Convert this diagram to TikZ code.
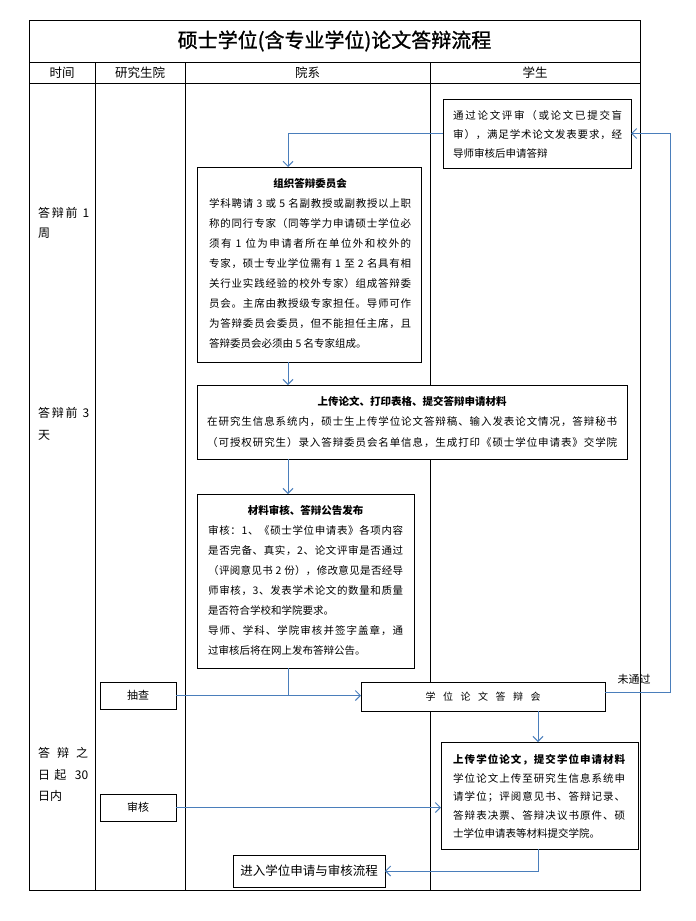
\documentclass[tikz,border=0pt]{standalone}
\usepackage{fontspec}
\setmainfont{Noto Sans CJK SC}
\newfontfamily\ttlfont[FakeBold=1.2]{Noto Sans CJK SC}
\usetikzlibrary{arrows.meta}
\definecolor{conn}{RGB}{74,126,187}
% inter-character stretch for CJK, used to justify lines
\newcount\cjkcnt
\cjkcnt="3000
\loop\XeTeXcharclass\cjkcnt=7 \advance\cjkcnt by 1 \ifnum\cjkcnt<"3040 \repeat
\cjkcnt="4E00
\loop\XeTeXcharclass\cjkcnt=7 \advance\cjkcnt by 1 \ifnum\cjkcnt<"A000 \repeat
\cjkcnt="FF00
\loop\XeTeXcharclass\cjkcnt=7 \advance\cjkcnt by 1 \ifnum\cjkcnt<"FF60 \repeat
\XeTeXinterchartoks 7 7 = {\hskip 0pt plus 1pt\relax}
\XeTeXinterchartoks 7 0 = {\hskip 0pt plus 1pt\relax}
\XeTeXinterchartoks 0 7 = {\hskip 0pt plus 1pt\relax}
\XeTeXinterchartokenstate=1
\newcommand\JL[1]{\hbox to \hsize{#1}}
\newcommand\NL[1]{\hbox{#1}}
\newcommand\CL[1]{\hbox to \hsize{\hfil#1\hfil}}
\newcommand\tblock[3]{\vtop{\hsize=#1pt\baselineskip=#2pt\lineskiplimit=-30pt\lineskip=0pt\relax #3}}
\begin{document}
\begin{tikzpicture}[x=1pt,y=-1pt,
  tbl/.style={draw=black, line width=1pt},
  box/.style={draw=black, line width=1pt, fill=white, inner sep=0pt, outer sep=0pt, anchor=north west},
  txt/.style={anchor=base west, inner sep=0pt, font=\fontsize{10.5}{12}\selectfont},
  hdr/.style={inner sep=0pt, font=\fontsize{12.5}{14}\selectfont},
  arr/.style={draw=conn, line width=1pt, -{Straight Barb[length=5pt,width=10pt]}},
  ln/.style={draw=conn, line width=1pt}]
\useasboundingbox (0,0) rectangle (696,921);
\fill[white] (0,0) rectangle (696,921);
% table
\draw[tbl] (29,20) rectangle (640,890);
\draw[tbl] (29,62) -- (640,62);
\draw[tbl] (29,83) -- (640,83);
\draw[tbl] (95,62) -- (95,890);
\draw[tbl] (185,62) -- (185,890);
\draw[tbl] (430,62) -- (430,890);
\node[inner sep=0pt, font=\ttlfont\fontsize{20}{24}\selectfont] (title) at (334.5,41) {硕士学位(含专业学位)论文答辩流程};
\node[hdr] (h1) at (62,72.5) {时间};
\node[hdr] (h2) at (140,72.5) {研究生院};
\node[hdr] (h3) at (307.5,72.5) {院系};
\node[hdr] (h4) at (535,72.5) {学生};
% time labels
\node[anchor=base west, inner sep=0pt, font=\fontsize{12}{14}\selectfont] (t1) at (38,217.5) {\tblock{51}{20}{\JL{答辩前 1}\NL{周}}};
\node[anchor=base west, inner sep=0pt, font=\fontsize{12}{14}\selectfont] (t2) at (38,417.5) {\tblock{51}{21.5}{\JL{答辩前 3}\NL{天}}};
\node[anchor=base west, inner sep=0pt, font=\fontsize{12}{14}\selectfont] (t3) at (38,757.5) {\tblock{50}{21.5}{\JL{答辩之}\JL{日起 30}\NL{日内}}};
% boxes
\node[box, minimum width=188pt, minimum height=69pt] (stud) at (443,99) {};
\node[box, minimum width=224pt, minimum height=195pt] (comm) at (197,167) {};
\node[box, minimum width=430pt, minimum height=74pt] (up) at (197,385) {};
\node[box, minimum width=217pt, minimum height=174pt] (mat) at (197,494) {};
\node[box, minimum width=76pt, minimum height=27pt, font=\fontsize{11}{13}\selectfont] (chk) at (100,682) {抽查};
\node[box, minimum width=244pt, minimum height=29pt, font=\fontsize{10}{12}\selectfont] (def) at (361,682) {学\hspace{7.5pt}位\hspace{7.5pt}论\hspace{7.5pt}文\hspace{7.5pt}答\hspace{7.5pt}辩\hspace{7.5pt}会};
\node[box, minimum width=197pt, minimum height=107pt] (thes) at (441,742) {};
\node[box, minimum width=76pt, minimum height=27pt, font=\fontsize{11}{13}\selectfont] (rev) at (100,794) {审核};
\node[box, minimum width=152pt, minimum height=32pt, font=\fontsize{12.5}{14}\selectfont] (enter) at (233,855) {进入学位申请与审核流程};
% box texts
\node[txt] (studtxt) at (453,119) {\tblock{169}{19}{%
\JL{通过论文评审（或论文已提交盲}
\JL{审），满足学术论文发表要求，经}
\NL{导师审核后申请答辩}}};
\node[txt] (commtxt) at (209,187) {\tblock{202}{20}{%
\CL{\bfseries 组织答辩委员会}
\JL{学科聘请 3 或 5 名副教授或副教授以上职}
\JL{称的同行专家（同等学力申请硕士学位必}
\JL{须有 1 位为申请者所在单位外和校外的}
\JL{专家，硕士专业学位需有 1 至 2 名具有相}
\JL{关行业实践经验的校外专家）组成答辩委}
\JL{员会。主席由教授级专家担任。导师可作}
\JL{为答辩委员会委员，但不能担任主席，且}
\NL{答辩委员会必须由 5 名专家组成。}}};
\node[txt] (uptxt) at (207,405) {\tblock{410}{20.5}{%
\CL{\bfseries 上传论文、打印表格、提交答辩申请材料}
\JL{在研究生信息系统内，硕士生上传学位论文答辩稿、输入发表论文情况，答辩秘书}
\JL{（可授权研究生）录入答辩委员会名单信息，生成打印《硕士学位申请表》交学院}}};
\node[txt] (mattxt) at (208,514) {\tblock{195}{20}{%
\CL{\bfseries 材料审核、答辩公告发布}
\JL{审核：1、《硕士学位申请表》各项内容}
\JL{是否完备、真实，2、论文评审是否通过}
\JL{（评阅意见书 2 份），修改意见是否经导}
\JL{师审核，3、发表学术论文的数量和质量}
\NL{是否符合学校和学院要求。}
\JL{导师、学科、学院审核并签字盖章，通}
\NL{过审核后将在网上发布答辩公告。}}};
\node[txt] (thestxt) at (453,763.5) {\tblock{172}{18.5}{%
\JL{\bfseries 上传学位论文，提交学位申请材料}
\JL{学位论文上传至研究生信息系统申}
\JL{请学位；评阅意见书、答辩记录、}
\JL{答辩表决票、答辩决议书原件、硕}
\NL{士学位申请表等材料提交学院。}}};
% helper coordinates
\coordinate (xa) at (288,0);
\coordinate (xb) at (538,0);
\coordinate (xr) at (670,0);
% connectors
\draw[arr] (stud.west) -| (comm.north -| xa);
\draw[arr] (comm.south -| xa) -- (up.north -| xa);
\draw[arr] (up.south -| xa) -- (mat.north -| xa);
\draw[ln] (mat.south -| xa) -- (xa |- chk.east);
\draw[arr] (chk.east) -- (def.west |- chk.east);
\draw[arr] ([yshift=4pt]def.east) -| (xr |- stud.east) -- (stud.east);
\node[inner sep=0pt, font=\fontsize{11}{13}\selectfont] (nopass) at (634,679) {未通过};
\draw[arr] (def.south -| xb) -- (thes.north -| xb);
\draw[arr] (rev.east) -- (rev.east -| thes.west);
\draw[arr] (thes.south -| xb) -- (xb |- enter.east) -- (enter.east);
\end{tikzpicture}
\end{document}
